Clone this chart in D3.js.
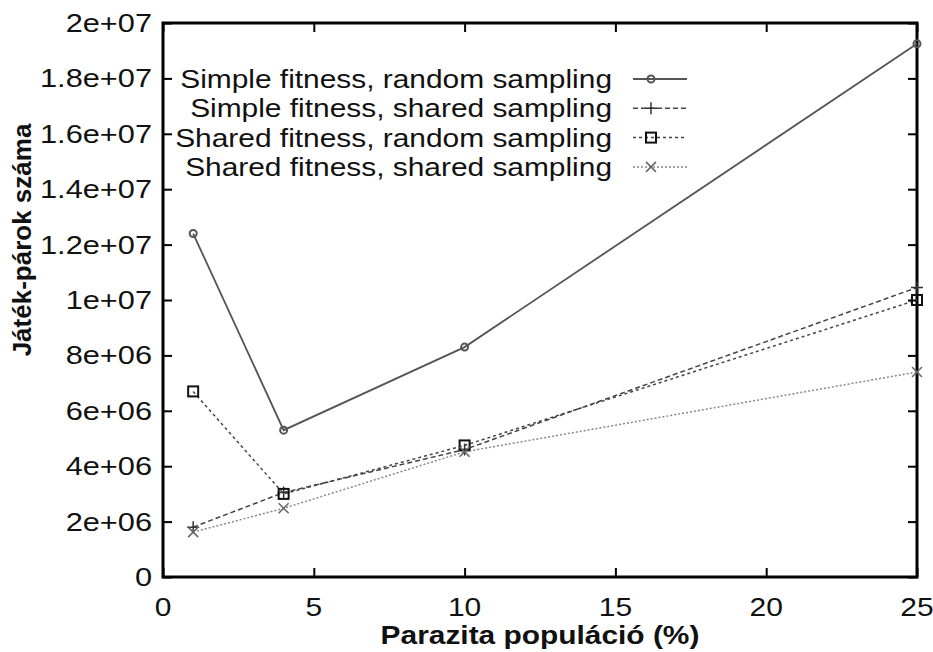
<!DOCTYPE html>
<html>
<head>
<meta charset="utf-8">
<script src="https://cdn.jsdelivr.net/npm/d3@7"></script>
<style>
    body { margin: 0; background: white; }
    text { font-family: "Liberation Sans", Arial, Helvetica, sans-serif; fill: #111; }
</style>
</head>
<body>
<div id="chart"></div>
<script>
// x values: parasite population percentage
const populations = [1, 4, 10, 25];
const seriesNames = [
    "Simple fitness, random sampling",
    "Simple fitness, shared sampling",
    "Shared fitness, random sampling",
    "Shared fitness, shared sampling"
];
const simpleRandom = [12400000, 5300000, 8300000, 19250000];
const simpleShared = [1800000, 3050000, 4600000, 10450000];
const sharedRandom = [6700000, 3000000, 4750000, 10000000];
const sharedShared = [1620000, 2480000, 4520000, 7400000];
const xTickLabels = ["0", "5", "10", "15", "20", "25"];
const yTickLabels = ["0", "2e+06", "4e+06", "6e+06", "8e+06", "1e+07", "1.2e+07", "1.4e+07", "1.6e+07", "1.8e+07", "2e+07"];

const width = 933, height = 652;
const margin = { left: 163, right: 16, top: 23, bottom: 75 };

const svg = d3.select("#chart").append("svg")
    .attr("width", width)
    .attr("height", height)
    .style("background-color", "white");

const x = d3.scaleLinear().domain([0, 25]).range([margin.left, width - margin.right]);
const y = d3.scaleLinear().domain([0, 20000000]).range([height - margin.bottom, margin.top]);

const xTicks = xTickLabels.map(Number);
const yTicks = yTickLabels.map(Number);

// inward ticks on all four sides
function tickAxis(axis, pos, ticks) {
    const g = svg.append("g").attr("transform", pos)
        .call(axis.tickValues(ticks).tickSizeInner(-9).tickSizeOuter(0).tickFormat(""));
    g.select(".domain").remove();
    g.selectAll(".tick line").attr("stroke", "#000").attr("stroke-width", 2);
    return g;
}
tickAxis(d3.axisBottom(x), `translate(0,${y(0)})`, xTicks);
tickAxis(d3.axisTop(x), `translate(0,${y(20000000)})`, xTicks);
tickAxis(d3.axisLeft(y), `translate(${x(0)},0)`, yTicks);
tickAxis(d3.axisRight(y), `translate(${x(25)},0)`, yTicks);

// frame
svg.append("rect")
    .attr("x", x(0)).attr("y", y(20000000))
    .attr("width", x(25) - x(0)).attr("height", y(0) - y(20000000))
    .attr("fill", "none").attr("stroke", "#000").attr("stroke-width", 3);

// text in the picture looks horizontally stretched
function stretchedText(px, py, str, anchor, size, weight, stretch) {
    svg.append("text")
        .attr("transform", `translate(${px},${py}) scale(${stretch},1)`)
        .attr("text-anchor", anchor)
        .style("font-size", size + "px")
        .style("font-weight", weight || "normal")
        .text(str);
}

// tick labels
xTickLabels.forEach((t, i) => stretchedText(x(xTicks[i]), 616, t, "middle", 25, "normal", 1.2));
yTickLabels.forEach((t, i) => stretchedText(x(0) - 11, y(yTicks[i]) + 9, t, "end", 25, "normal", 1.23));

// axis titles
stretchedText(540, 644, "Parazita populáció (%)", "middle", 26, "bold", 1.15);
svg.append("text")
    .attr("transform", "translate(31,240) rotate(-90)")
    .attr("text-anchor", "middle")
    .style("font-size", "26px")
    .style("font-weight", "bold")
    .text("Játék-párok száma");

const styles = [
    { data: simpleRandom, color: "#555", dash: null, width: 1.8, marker: "circle" },
    { data: simpleShared, color: "#444", dash: "5,3", width: 1.5, marker: "plus" },
    { data: sharedRandom, color: "#444", dash: "3,3", width: 1.5, marker: "square" },
    { data: sharedShared, color: "#888", dash: "2,2", width: 1.5, marker: "cross" }
];

const line = d3.line().x((d, i) => x(populations[i])).y(d => y(d));

function drawMarker(g, kind, cx, cy, color) {
    if (kind === "circle") {
        g.append("circle").attr("cx", cx).attr("cy", cy).attr("r", 3.5)
            .attr("fill", "none").attr("stroke", color).attr("stroke-width", 2);
    } else if (kind === "plus") {
        g.append("path").attr("d", `M${cx - 6},${cy}H${cx + 6}M${cx},${cy - 6}V${cy + 6}`)
            .attr("stroke", "#333").attr("stroke-width", 1.5);
    } else if (kind === "square") {
        g.append("rect").attr("x", cx - 5).attr("y", cy - 5).attr("width", 10).attr("height", 10)
            .attr("fill", "none").attr("stroke", "#111").attr("stroke-width", 2);
    } else {
        g.append("path").attr("d", `M${cx - 5},${cy - 5}L${cx + 5},${cy + 5}M${cx - 5},${cy + 5}L${cx + 5},${cy - 5}`)
            .attr("stroke", "#666").attr("stroke-width", 1.5);
    }
}

const plot = svg.append("g");
styles.forEach(s => {
    plot.append("path")
        .datum(s.data)
        .attr("d", line)
        .attr("fill", "none")
        .attr("stroke", s.color)
        .attr("stroke-width", s.width)
        .attr("stroke-dasharray", s.dash);
    s.data.forEach((v, i) => drawMarker(plot, s.marker, x(populations[i]), y(v), s.color));
});

// legend
const legend = svg.append("g");
styles.forEach((s, i) => {
    const ly = 79 + i * 29.3;
    stretchedText(612, ly + 9, seriesNames[i], "end", 26, "normal", 1.15);
    legend.append("line")
        .attr("x1", 633).attr("x2", 687).attr("y1", ly).attr("y2", ly)
        .attr("stroke", s.color).attr("stroke-width", s.width)
        .attr("stroke-dasharray", s.dash);
    drawMarker(legend, s.marker, 651, ly, s.color);
});
</script>
</body>
</html>
